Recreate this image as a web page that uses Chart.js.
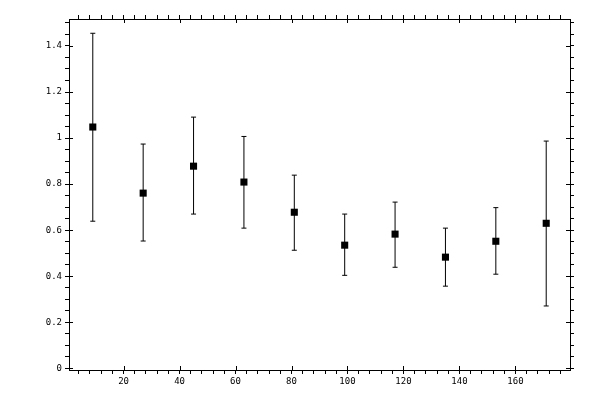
<!DOCTYPE html>
<html>
<head>
<meta charset="utf-8">
<script src="https://cdn.jsdelivr.net/npm/chart.js@4/dist/chart.umd.min.js"></script>
<style>
  body { margin: 0; background: #fff; }
  canvas { display: block; }
</style>
</head>
<body>
<canvas id="chart" width="600" height="400"></canvas>
<script>
// values
const xValues = [9, 27, 45, 63, 81, 99, 117, 135, 153, 171];
const yValues = [1.048, 0.761, 0.878, 0.809, 0.678, 0.535, 0.583, 0.483, 0.552, 0.630];
const yHigh = [1.455, 0.974, 1.091, 1.007, 0.839, 0.670, 0.722, 0.609, 0.698, 0.987];
const yLow = [0.639, 0.553, 0.670, 0.609, 0.513, 0.404, 0.439, 0.357, 0.409, 0.271];
const xMajorTicks = [20, 40, 60, 80, 100, 120, 140, 160];
const yMajorTicks = [0, 0.2, 0.4, 0.6, 0.8, 1, 1.2, 1.4];

const points = xValues.map((x, i) => ({ x: x, y: yValues[i] }));

// each error bar is two points, split from the next by a null
const bars = [];
xValues.forEach((x, i) => {
    bars.push({ x: x, y: yLow[i] });
    bars.push({ x: x, y: yHigh[i] });
    bars.push({ x: x, y: null });
});

const isMajor = (v, list) => list.some(m => Math.abs(m - v) < 1e-6);
const tickFont = { family: 'DejaVu Sans Mono', size: 9 };

function axis(position, opts) {
    return Object.assign({
        type: 'linear',
        position: position,
        grid: {
            drawOnChartArea: false,
            drawTicks: true,
            tickLength: 4,
            tickColor: '#000',
            tickWidth: 1
        },
        border: { display: true, color: '#000', width: 1 }
    }, opts);
}

// inner half of the major tick marks
const majorTickStubs = {
    id: 'majorTickStubs',
    afterDraw(chart) {
        const ctx = chart.ctx;
        const a = chart.chartArea;
        ctx.save();
        ctx.strokeStyle = '#000';
        ctx.lineWidth = 1;
        ctx.beginPath();
        xMajorTicks.forEach(v => {
            const px = Math.round(chart.scales.x.getPixelForValue(v)) + 0.5;
            ctx.moveTo(px, a.bottom);
            ctx.lineTo(px, a.bottom - 4);
            ctx.moveTo(px, a.top);
            ctx.lineTo(px, a.top + 4);
        });
        yMajorTicks.forEach(v => {
            const py = Math.round(chart.scales.y.getPixelForValue(v)) + 0.5;
            ctx.moveTo(a.left, py);
            ctx.lineTo(a.left + 4, py);
            ctx.moveTo(a.right, py);
            ctx.lineTo(a.right - 4, py);
        });
        ctx.stroke();
        ctx.restore();
    }
};

const xTicks = {
    stepSize: 4,
    includeBounds: false,
    autoSkip: false,
    maxRotation: 0,
    minRotation: 0,
    color: '#000',
    font: tickFont,
    padding: 2
};
const yTicks = {
    stepSize: 0.05,
    includeBounds: false,
    autoSkip: false,
    color: '#000',
    font: tickFont,
    padding: 3
};

new Chart(document.getElementById('chart'), {
    type: 'scatter',
    data: {
        datasets: [
            {
                data: points,
                pointStyle: 'rect',
                pointRadius: 5,
                pointBorderWidth: 0,
                backgroundColor: '#000',
                borderColor: '#000',
                showLine: false
            },
            {
                data: bars,
                showLine: true,
                spanGaps: false,
                borderColor: '#000',
                borderWidth: 1,
                pointStyle: 'line',
                pointRadius: 2.5,
                pointBorderWidth: 1,
                pointBorderColor: '#000'
            }
        ]
    },
    options: {
        responsive: false,
        animation: false,
        layout: { padding: 0 },
        plugins: {
            legend: { display: false },
            tooltip: { enabled: false }
        },
        scales: {
            x: axis('bottom', {
                min: 0.5,
                max: 179.5,
                ticks: Object.assign({}, xTicks, {
                    callback: v => isMajor(v, xMajorTicks) ? String(v) : ''
                }),
                afterFit: s => { s.height = 30; }
            }),
            x2: axis('top', {
                min: 0.5,
                max: 179.5,
                ticks: Object.assign({}, xTicks, { callback: () => '' }),
                afterFit: s => { s.height = 19; }
            }),
            y: axis('left', {
                min: -0.007,
                max: 1.517,
                ticks: Object.assign({}, yTicks, {
                    callback: v => isMajor(v, yMajorTicks) ? String(Math.round(v * 10) / 10) : ''
                }),
                afterFit: s => { s.width = 69; }
            }),
            y2: axis('right', {
                min: -0.007,
                max: 1.517,
                ticks: Object.assign({}, yTicks, { callback: () => '' }),
                afterFit: s => { s.width = 30; }
            })
        }
    },
    plugins: [majorTickStubs]
});
</script>
</body>
</html>
